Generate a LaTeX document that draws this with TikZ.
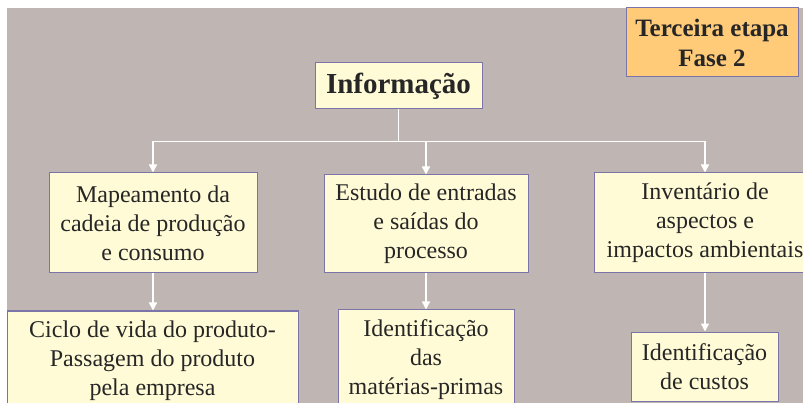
\documentclass[tikz,border=0pt]{standalone}
\usepackage{fontspec}
\setmainfont{Liberation Serif}
\usepackage{tikz}
\usetikzlibrary{arrows.meta}

\definecolor{fundo}{HTML}{BFB5B3}
\definecolor{caixa}{HTML}{FFFBD6}
\definecolor{borda}{HTML}{7A74A8}
\definecolor{laranja}{HTML}{FFCB78}
\definecolor{texto}{HTML}{262626}

\begin{document}
\begin{tikzpicture}[x=1pt, y=-1pt,
    every node/.style={draw=borda, line width=1pt, fill=caixa, text=texto,
      align=center, inner sep=0pt, font=\fontsize{24}{29}\selectfont},
    seta/.style={draw=white, line width=1.4pt, -{Triangle[width=8pt,length=8pt]}}]
    \useasboundingbox (0,0) rectangle (803,403);
    \clip (0,0) rectangle (803,403);
    \fill[fundo] (7,8) rectangle (803,403);

    % Top level
    \node[minimum width=167pt, minimum height=46pt, font=\fontsize{29}{34}\selectfont\bfseries]
      (info) at (398.5,86) {Informação};
    \node[minimum width=172pt, minimum height=69pt, fill=laranja,
      font=\fontsize{25}{30}\selectfont\bfseries]
      (etapa) at (712,42.5) {Terceira etapa\\Fase 2};

    % First row
    \node[minimum width=208pt, minimum height=100pt] (mapa) at (153,223)
      {Mapeamento da\\cadeia de produção\\e consumo};
    \node[minimum width=204pt, minimum height=98pt] (estudo) at (426,224)
      {Estudo de entradas\\e saídas do\\processo};
    \node[minimum width=222pt, minimum height=100pt] (invent) at (705,223)
      {Inventário de\\aspectos e\\impactos ambientais};

    % Second row
    \node[minimum width=291pt, minimum height=100pt] (ciclo) at (152.5,361)
      {Ciclo de vida do produto-\\Passagem do produto\\pela empresa};
    \node[minimum width=176pt, minimum height=100pt] (materias) at (426,360)
      {Identificação\\das\\matérias-primas};
    \node[minimum width=147pt, minimum height=69pt] (custos) at (704.5,366.5)
      {Identificação\\de custos};

    % Connectors
    \coordinate (barra) at (398.5,141.5);
    \draw[draw=white, line width=1.4pt] (info.south) -- (barra);
    \foreach \n in {mapa,estudo,invent} {
      \draw[seta] (barra) -| (\n.north);
    }
    \foreach \a/\b in {mapa/ciclo,estudo/materias,invent/custos} {
      \draw[seta] (\a.south) -- (\a.south |- \b.north);
    }
\end{tikzpicture}
\end{document}
